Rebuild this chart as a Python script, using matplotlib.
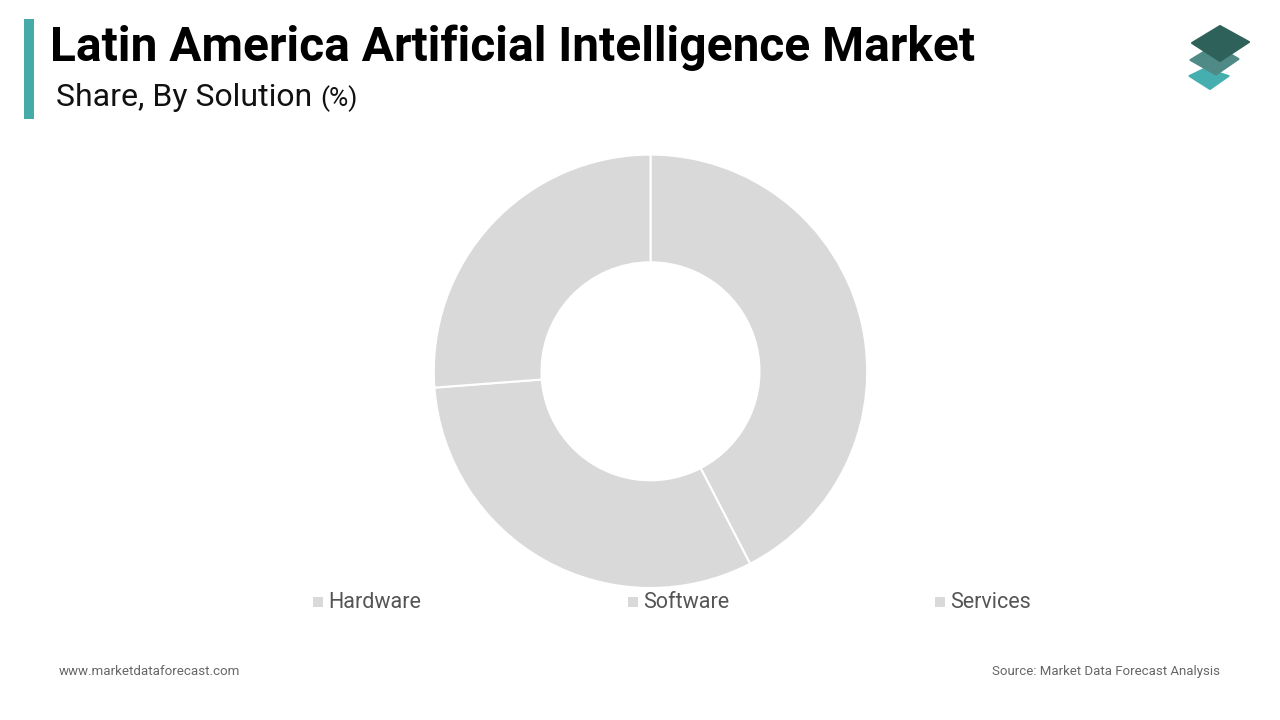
import matplotlib
matplotlib.use('Agg')
from matplotlib import pyplot as plt
from matplotlib.patches import Polygon, Rectangle

labels = ['Hardware', 'Software', 'Services']
shares = [42.4, 31.4, 26.2]
slice_color = '#d9d9d9'
legend_x = [313, 628, 935]

W, H = 1280, 720
plt.rcParams['font.family'] = ['Roboto', 'DejaVu Sans']

fig = plt.figure(figsize=(W / 100, H / 100), dpi=100, facecolor='white')

# overlay in pixel coords for the title block, logo, footer
bg = fig.add_axes([0, 0, 1, 1])
bg.set_xlim(0, W)
bg.set_ylim(H, 0)
bg.axis('off')

bg.add_patch(Rectangle((24, 19), 10, 100, fc='#45aaa8', ec='none'))
bg.text(50, 47.5, 'Latin America Artificial Intelligence Market', fontsize=34.5,
        fontweight='bold', color='black', va='center', ha='left')
bg.text(56, 98, 'Share, By Solution', fontsize=23.05, color='#111111', va='center', ha='left')
bg.text(320.5, 99, '(%)', fontsize=19, color='#111111', va='center', ha='left')

# logo
bg.add_patch(Polygon([(1189.5, 76), (1205, 68.5), (1228.5, 76), (1210, 89)], fc='#45aeae', ec='#45aeae', lw=1.5, joinstyle='round'))
bg.add_patch(Polygon([(1190.5, 60), (1215, 45), (1238.5, 59), (1216, 74.5)], fc='#4f8a86', ec='#4f8a86', lw=1.5, joinstyle='round'))
bg.add_patch(Polygon([(1220, 26), (1249, 42), (1220, 61), (1192, 43)], fc='#2f615b', ec='#2f615b', lw=1.5, joinstyle='round'))

# donut
cx, cy, r = 650.5, 371.3, 216.7
ax = fig.add_axes([(cx - r) / W, 1 - (cy + r) / H, 2 * r / W, 2 * r / H])
ax.pie(shares, startangle=90, counterclock=False, radius=1,
       colors=[slice_color] * len(shares),
       wedgeprops={'width': 0.497, 'edgecolor': 'white', 'linewidth': 1.5})
ax.set_xlim(-1, 1)
ax.set_ylim(-1, 1)

# legend
for x, name in zip(legend_x, labels):
    bg.add_patch(Rectangle((x, 596.5), 9.5, 10.5, fc=slice_color, ec='none'))
    bg.text(x + 15.5, 603, name, fontsize=15.5, color='#555555', va='center', ha='left')

bg.text(59, 671.5, 'www.marketdataforecast.com', fontsize=9.65, color='#666666', va='center', ha='left')
bg.text(1220, 671.5, 'Source: Market Data Forecast Analysis', fontsize=9.57, color='#666666', va='center', ha='right')

fig.savefig('out.png', dpi=100)
